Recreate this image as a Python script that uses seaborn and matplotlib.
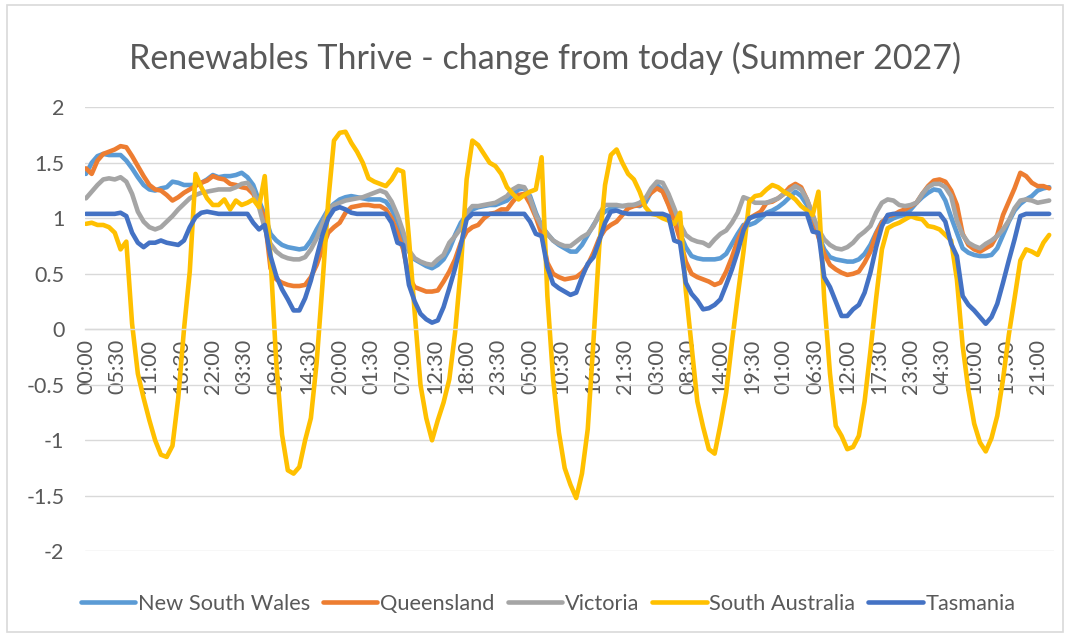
import numpy as np
import pandas as pd
import matplotlib
matplotlib.use("Agg")
import matplotlib.pyplot as plt
import seaborn as sns
from matplotlib.patches import Rectangle

# Series names and colours
regions = ["New South Wales", "Queensland", "Victoria", "South Australia", "Tasmania"]
colors = ["#5B9BD5", "#ED7D31", "#A5A5A5", "#FFC000", "#4472C4"]

title = "Renewables Thrive - change from today (Summer 2027)"

# Category axis: 336 half-hour slots over seven days, every 11th slot labelled
n_slots = 336
tick_slots = list(range(0, 331, 11))
tick_labels = ["00:00", "05:30", "11:00", "16:30", "22:00", "03:30", "09:00",
               "14:30", "20:00", "01:30", "07:00", "12:30", "18:00", "23:30",
               "05:00", "10:30", "16:00", "21:30", "03:00", "08:30", "14:00",
               "19:30", "01:00", "06:30", "12:00", "17:30", "23:00", "04:30",
               "10:00", "15:30", "21:00"]

# Hourly values (one row per day, 24 readings each)
nsw = [
    1.40, 1.50, 1.56, 1.58, 1.57, 1.57, 1.57, 1.52, 1.45, 1.37, 1.30, 1.26, 1.25, 1.27, 1.28, 1.33, 1.32, 1.30, 1.30, 1.30, 1.32, 1.35, 1.39, 1.37,
    1.38, 1.38, 1.39, 1.41, 1.37, 1.30, 1.16, 1.03, 0.86, 0.80, 0.76, 0.74, 0.73, 0.72, 0.73, 0.80, 0.90, 0.99, 1.08, 1.13, 1.17, 1.19, 1.20, 1.19,
    1.18, 1.17, 1.17, 1.17, 1.15, 1.08, 0.97, 0.82, 0.70, 0.63, 0.60, 0.57, 0.55, 0.58, 0.63, 0.72, 0.85, 0.96, 1.03, 1.08, 1.10, 1.11, 1.12, 1.12,
    1.14, 1.16, 1.21, 1.26, 1.27, 1.20, 1.05, 0.93, 0.86, 0.80, 0.76, 0.73, 0.70, 0.70, 0.76, 0.85, 0.94, 1.02, 1.06, 1.09, 1.11, 1.11, 1.11, 1.12,
    1.11, 1.14, 1.24, 1.30, 1.25, 1.13, 1.00, 0.86, 0.74, 0.66, 0.64, 0.63, 0.63, 0.63, 0.64, 0.68, 0.77, 0.86, 0.94, 0.94, 0.96, 1.00, 1.05, 1.07,
    1.10, 1.14, 1.19, 1.24, 1.20, 1.12, 1.00, 0.85, 0.72, 0.65, 0.63, 0.62, 0.61, 0.61, 0.63, 0.68, 0.76, 0.87, 0.97, 0.97, 1.00, 1.02, 1.03, 1.08,
    1.14, 1.19, 1.23, 1.26, 1.25, 1.16, 1.01, 0.87, 0.73, 0.69, 0.67, 0.66, 0.66, 0.67, 0.73, 0.85, 0.97, 1.07, 1.13, 1.17, 1.20, 1.25, 1.27, 1.28,
]
qld = [
    1.45, 1.40, 1.52, 1.58, 1.60, 1.62, 1.65, 1.64, 1.56, 1.47, 1.38, 1.30, 1.26, 1.25, 1.21, 1.16, 1.19, 1.23, 1.26, 1.29, 1.32, 1.34, 1.38, 1.36,
    1.35, 1.31, 1.30, 1.28, 1.27, 1.22, 1.12, 1.00, 0.55, 0.45, 0.42, 0.40, 0.39, 0.39, 0.40, 0.47, 0.58, 0.73, 0.87, 0.92, 0.96, 1.05, 1.10, 1.11,
    1.12, 1.12, 1.11, 1.11, 1.08, 1.00, 0.87, 0.72, 0.47, 0.38, 0.36, 0.34, 0.34, 0.35, 0.43, 0.52, 0.63, 0.78, 0.88, 0.92, 0.94, 1.00, 1.04, 1.05,
    1.08, 1.08, 1.15, 1.21, 1.22, 1.13, 1.01, 0.86, 0.60, 0.50, 0.47, 0.45, 0.46, 0.47, 0.51, 0.58, 0.69, 0.82, 0.90, 0.94, 0.97, 1.03, 1.09, 1.11,
    1.12, 1.18, 1.23, 1.27, 1.24, 1.12, 0.98, 0.81, 0.61, 0.50, 0.47, 0.45, 0.43, 0.40, 0.42, 0.52, 0.65, 0.80, 0.92, 1.00, 1.03, 1.06, 1.14, 1.15,
    1.18, 1.22, 1.28, 1.31, 1.28, 1.17, 1.03, 0.83, 0.68, 0.58, 0.54, 0.51, 0.49, 0.50, 0.52, 0.60, 0.70, 0.86, 0.96, 1.02, 1.03, 1.06, 1.08, 1.11,
    1.14, 1.22, 1.29, 1.34, 1.35, 1.33, 1.25, 1.12, 0.86, 0.76, 0.72, 0.70, 0.73, 0.76, 0.85, 1.03, 1.15, 1.27, 1.41, 1.38, 1.32, 1.29, 1.29, 1.27,
]
vic = [
    1.18, 1.24, 1.30, 1.35, 1.36, 1.35, 1.37, 1.33, 1.22, 1.06, 0.97, 0.92, 0.90, 0.92, 0.97, 1.02, 1.08, 1.13, 1.18, 1.21, 1.23, 1.24, 1.25, 1.26,
    1.26, 1.26, 1.28, 1.31, 1.32, 1.25, 1.10, 0.91, 0.77, 0.70, 0.66, 0.64, 0.63, 0.63, 0.65, 0.72, 0.82, 0.95, 1.07, 1.12, 1.14, 1.16, 1.17, 1.18,
    1.19, 1.21, 1.23, 1.25, 1.23, 1.15, 1.03, 0.88, 0.71, 0.64, 0.61, 0.59, 0.58, 0.63, 0.67, 0.78, 0.84, 0.91, 1.05, 1.11, 1.11, 1.12, 1.13, 1.14,
    1.17, 1.20, 1.26, 1.29, 1.28, 1.18, 1.03, 0.93, 0.86, 0.80, 0.77, 0.75, 0.75, 0.79, 0.83, 0.86, 0.93, 1.04, 1.12, 1.12, 1.12, 1.11, 1.12, 1.12,
    1.14, 1.18, 1.27, 1.33, 1.32, 1.22, 1.09, 0.95, 0.85, 0.81, 0.79, 0.78, 0.75, 0.81, 0.86, 0.89, 0.96, 1.05, 1.19, 1.17, 1.14, 1.14, 1.14, 1.16,
    1.18, 1.22, 1.25, 1.29, 1.26, 1.17, 1.03, 0.90, 0.81, 0.76, 0.73, 0.72, 0.74, 0.78, 0.84, 0.88, 0.93, 1.05, 1.14, 1.17, 1.16, 1.12, 1.11, 1.12,
    1.14, 1.22, 1.28, 1.31, 1.31, 1.28, 1.20, 0.98, 0.85, 0.78, 0.75, 0.73, 0.77, 0.80, 0.84, 0.90, 0.98, 1.09, 1.16, 1.17, 1.16, 1.14, 1.15, 1.16,
]
sa = [
    0.95, 0.96, 0.94, 0.94, 0.92, 0.87, 0.72, 0.79, 0.05, -0.40, -0.62, -0.82, -1.00, -1.13, -1.15, -1.05, -0.62, 0.00, 0.52, 1.40, 1.28, 1.18, 1.12, 1.12,
    1.17, 1.08, 1.16, 1.12, 1.14, 1.17, 1.10, 1.38, 0.65, -0.30, -0.95, -1.27, -1.30, -1.24, -1.00, -0.80, -0.30, 0.40, 1.15, 1.70, 1.77, 1.78, 1.68, 1.60,
    1.50, 1.36, 1.33, 1.31, 1.29, 1.35, 1.44, 1.42, 0.82, 0.15, -0.50, -0.80, -1.00, -0.82, -0.66, -0.45, -0.03, 0.55, 1.35, 1.70, 1.66, 1.58, 1.50, 1.47,
    1.40, 1.28, 1.22, 1.17, 1.21, 1.24, 1.26, 1.55, 0.30, -0.45, -0.93, -1.25, -1.40, -1.52, -1.30, -0.90, -0.10, 0.75, 1.30, 1.57, 1.62, 1.50, 1.40, 1.35,
    1.24, 1.10, 1.04, 1.03, 1.00, 0.98, 0.95, 1.05, 0.35, -0.15, -0.65, -0.88, -1.08, -1.12, -0.86, -0.57, -0.12, 0.30, 0.70, 1.15, 1.20, 1.21, 1.26, 1.30,
    1.28, 1.24, 1.21, 1.17, 1.11, 1.07, 1.03, 1.24, 0.27, -0.40, -0.87, -0.96, -1.08, -1.06, -0.96, -0.65, -0.20, 0.28, 0.72, 0.91, 0.94, 0.96, 0.99, 1.02,
    1.00, 0.99, 0.93, 0.92, 0.90, 0.85, 0.80, 0.45, -0.15, -0.55, -0.85, -1.02, -1.10, -0.98, -0.78, -0.45, -0.05, 0.28, 0.62, 0.72, 0.70, 0.67, 0.78, 0.85,
]
tas = [
    1.04, 1.04, 1.04, 1.04, 1.04, 1.04, 1.05, 1.02, 0.87, 0.78, 0.74, 0.78, 0.78, 0.80, 0.78, 0.77, 0.76, 0.80, 0.92, 1.01, 1.05, 1.06, 1.05, 1.04,
    1.04, 1.04, 1.04, 1.04, 1.04, 0.96, 0.90, 0.94, 0.66, 0.48, 0.36, 0.27, 0.17, 0.17, 0.28, 0.44, 0.65, 0.85, 1.00, 1.08, 1.10, 1.08, 1.05, 1.04,
    1.04, 1.04, 1.04, 1.04, 1.04, 0.96, 0.78, 0.76, 0.40, 0.25, 0.14, 0.09, 0.06, 0.08, 0.20, 0.37, 0.55, 0.76, 0.99, 1.04, 1.04, 1.04, 1.04, 1.04,
    1.04, 1.04, 1.04, 1.04, 1.04, 0.97, 0.86, 0.84, 0.56, 0.41, 0.37, 0.34, 0.31, 0.33, 0.47, 0.59, 0.65, 0.80, 0.96, 1.06, 1.07, 1.05, 1.04, 1.04,
    1.04, 1.04, 1.04, 1.04, 1.04, 1.02, 0.80, 0.78, 0.42, 0.32, 0.26, 0.18, 0.19, 0.22, 0.27, 0.40, 0.54, 0.70, 0.89, 1.00, 1.02, 1.03, 1.04, 1.04,
    1.04, 1.04, 1.04, 1.04, 1.04, 1.04, 0.88, 0.87, 0.47, 0.38, 0.25, 0.12, 0.12, 0.18, 0.22, 0.33, 0.51, 0.74, 0.93, 1.03, 1.04, 1.04, 1.04, 1.04,
    1.04, 1.04, 1.04, 1.04, 1.04, 0.97, 0.77, 0.66, 0.30, 0.22, 0.17, 0.11, 0.05, 0.11, 0.23, 0.42, 0.62, 0.81, 1.02, 1.04, 1.04, 1.04, 1.04, 1.04,
]

series = [nsw, qld, vic, sa, tas]
slots = np.arange(0, n_slots, 2)  # one reading per hour = every second half-hour slot

df = pd.DataFrame({
    "slot": np.tile(slots, len(regions)),
    "region": np.repeat(regions, len(slots)),
    "value": np.concatenate(series),
})

sns.set_theme(style="white")
plt.rcParams["font.family"] = ["Lato", "DejaVu Sans"]
plt.rcParams["axes.unicode_minus"] = False
plt.rcParams["lines.solid_joinstyle"] = "round"
plt.rcParams["lines.solid_capstyle"] = "round"

text_color = "#595959"
grid_color = "#D9D9D9"

W, H = 1070, 637
fig = plt.figure(figsize=(W / 100, H / 100), dpi=100)
fig.patch.set_facecolor("white")

# plot area in pixel units
left_px, right_px, top_px, bottom_px = 84.5, 1053.5, 107.3, 551.3
ax = fig.add_axes([left_px / W, 1 - bottom_px / H,
                   (right_px - left_px) / W, (bottom_px - top_px) / H])

sns.lineplot(data=df, x="slot", y="value", hue="region", hue_order=regions,
             palette=colors, linewidth=3.3, ax=ax, legend=True)

ax.set_xlim(-0.5, n_slots - 0.5)
ax.set_ylim(-2, 2)
ax.set_xlabel("")
ax.set_ylabel("")

yt = np.arange(-2, 2.01, 0.5)
ax.set_yticks(yt)
ax.set_yticklabels([f"{v:g}" for v in yt])
ax.yaxis.grid(True, color=grid_color, linewidth=1.0)
ax.xaxis.grid(False)
ax.set_axisbelow(True)

for side in ["top", "right", "left"]:
    ax.spines[side].set_visible(False)
ax.spines["bottom"].set_position(("data", 0))
ax.spines["bottom"].set_color(grid_color)
ax.spines["bottom"].set_linewidth(1.0)

ax.set_xticks(tick_slots)
ax.set_xticklabels(tick_labels, rotation=90)
ax.tick_params(axis="x", length=0, pad=7, labelsize=15.5, labelcolor=text_color)
ax.tick_params(axis="y", length=0, pad=14.5, labelsize=15.5, labelcolor=text_color)

handles, labels = ax.get_legend_handles_labels()
ax.get_legend().remove()
leg = fig.legend(handles, labels, loc="center", bbox_to_anchor=(548 / W, 1 - 604 / H),
                 ncol=5, frameon=False, fontsize=15.7, handlelength=2.5,
                 handletextpad=0.12, columnspacing=0.6)
for t in leg.get_texts():
    t.set_color(text_color)
for h in leg.legend_handles:
    h.set_linewidth(3.3)

fig.text(545 / W, 1 - 58 / H, title, ha="center", va="center",
         fontsize=24.5, color=text_color)

fig.add_artist(Rectangle((7 / W, 5 / H), (1063 - 7) / W, (632 - 5) / H,
                         transform=fig.transFigure, fill=False,
                         edgecolor=grid_color, linewidth=1.2))

fig.savefig("out.png", dpi=100, facecolor="white")
